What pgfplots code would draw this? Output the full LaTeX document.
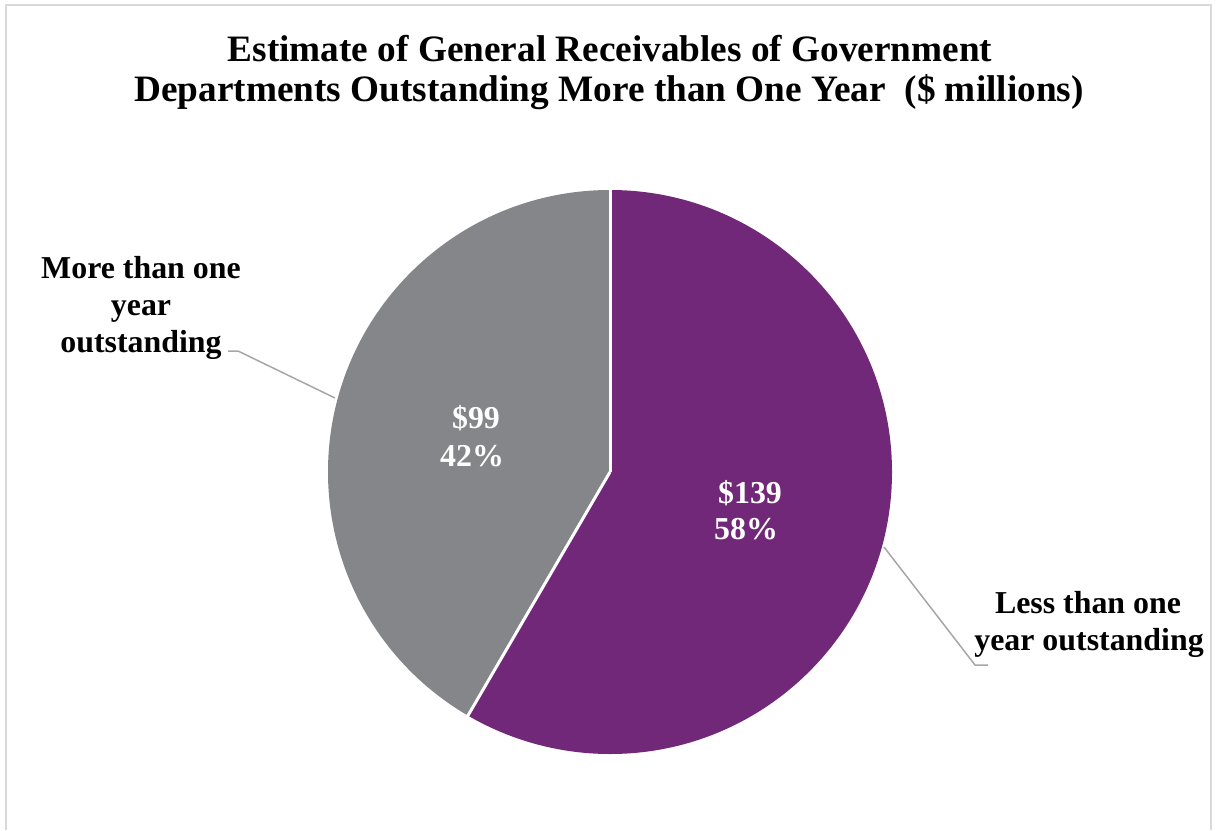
\documentclass[border=0pt]{standalone}
\usepackage{pgfplots}
\pgfplotsset{compat=1.18}
\usepackage{pgfplotstable}
\usepackage{fontspec}
\setmainfont{Liberation Serif}
\definecolor{slicepurple}{HTML}{722878}
\definecolor{slicegray}{HTML}{85868A}
\definecolor{leader}{HTML}{A6A6A6}
\definecolor{framec}{HTML}{D9D9D9}

\pgfplotstableread{
name value
less 139
more 99
}\piedata

\begin{document}
\begin{tikzpicture}
\pgfplotstablegetelem{0}{value}\of\piedata \pgfmathtruncatemacro{\vA}{\pgfplotsretval}
\pgfplotstablegetelem{1}{value}\of\piedata \pgfmathtruncatemacro{\vB}{\pgfplotsretval}
\pgfmathsetmacro{\tot}{\vA+\vB}
\pgfmathsetmacro{\fA}{\vA/\tot}
\pgfmathsetmacro{\fB}{\vB/\tot}
\pgfmathsetmacro{\angA}{90-360*\fA}
\pgfmathsetmacro{\angB}{\angA+360}
\pgfmathtruncatemacro{\pA}{round(100*\fA)}
\pgfmathtruncatemacro{\pB}{round(100*\fB)}
\begin{axis}[width=1216bp,height=830bp,scale only axis,hide axis,
  xmin=0,xmax=1216,ymin=0,ymax=830,y dir=reverse,clip=false]
\path (axis cs:0,0) rectangle (axis cs:1216,830);
% frame
\draw[framec, line width=2bp] (axis cs:6,830) -- (axis cs:6,5) -- (axis cs:1211,5) -- (axis cs:1211,830);
% slices
\fill[slicepurple] (axis cs:610,472) -- ++(90:282bp) arc[start angle=90,end angle=\angA,radius=282bp] -- cycle;
\fill[slicegray] (axis cs:610,472) -- ++(90:282bp) arc[start angle=90,end angle=\angB,radius=282bp] -- cycle;
\draw[white, line width=3bp] (axis cs:610,472) -- ++(90:283bp);
\draw[white, line width=3bp] (axis cs:610,472) -- ++(\angA:283bp);
% title
\node[anchor=base, font=\fontsize{37.4}{40}\selectfont\bfseries] at (axis cs:610,61) {Estimate of General Receivables of Government};
\node[anchor=base, font=\fontsize{37.4}{40}\selectfont\bfseries] at (axis cs:609,101) {Departments Outstanding More than One Year\ \ (\$ millions)};
% data labels
\node[anchor=base, text=white, font=\fontsize{32}{38}\selectfont\bfseries] at (axis cs:476,428) {\$\vB};
\node[anchor=base, text=white, font=\fontsize{32}{38}\selectfont\bfseries] at (axis cs:472,466) {\pB\%};
\node[anchor=base, text=white, font=\fontsize{32}{38}\selectfont\bfseries] at (axis cs:750,503) {\$\vA};
\node[anchor=base, text=white, font=\fontsize{32}{38}\selectfont\bfseries] at (axis cs:746,539) {\pA\%};
% category labels
\node[anchor=base, font=\fontsize{32}{37}\selectfont\bfseries] at (axis cs:141,278) {More than one};
\node[anchor=base, font=\fontsize{32}{37}\selectfont\bfseries] at (axis cs:141,315) {year};
\node[anchor=base, font=\fontsize{32}{37}\selectfont\bfseries] at (axis cs:141,352) {outstanding};
\node[anchor=base, font=\fontsize{32}{37}\selectfont\bfseries] at (axis cs:1088,613) {Less than one};
\node[anchor=base, font=\fontsize{32}{37}\selectfont\bfseries] at (axis cs:1089,650) {year outstanding};
% leader lines
\draw[leader, line width=1.5bp] (axis cs:228,351) -- (axis cs:238,351) -- (axis cs:335,398);
\draw[leader, line width=1.5bp] (axis cs:884,547) -- (axis cs:975,665) -- (axis cs:988,665);
\end{axis}
\end{tikzpicture}
\end{document}
